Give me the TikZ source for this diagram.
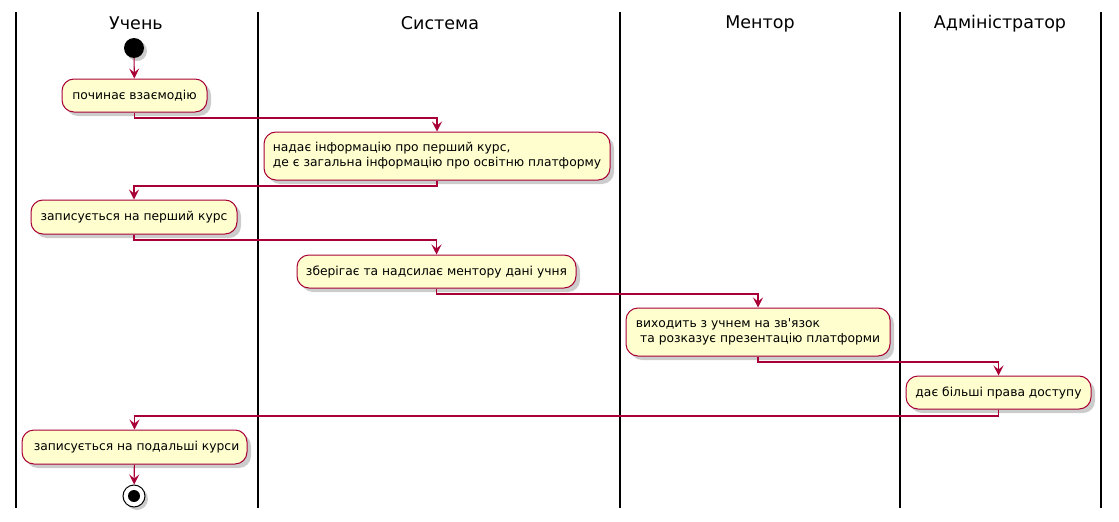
\documentclass[tikz,border=0pt]{standalone}
\usepackage{fontspec}
\setmainfont{DejaVu Sans}[Ligatures=TeXOff]
\usetikzlibrary{arrows.meta,shadows}

\definecolor{umlred}{HTML}{A80036}
\definecolor{umlfill}{HTML}{FEFECE}

\tikzset{
	act/.style={draw=umlred,fill=umlfill,line width=1pt,rounded corners=12pt,
		inner sep=0pt,minimum height=33pt,font=\fontsize{12.3}{15}\selectfont,
		drop shadow={shadow xshift=4pt,shadow yshift=-4pt,fill=black!40,opacity=.5}},
	flow/.style={color=umlred,line width=1.1pt,-{Stealth[length=10pt,width=10pt,inset=4pt]}},
	lane/.style={line width=1.5pt},
	lanetitle/.style={font=\fontsize{17.5}{20}\selectfont},
}

\begin{document}
\begin{tikzpicture}[x=1pt,y=-1pt]
	\useasboundingbox (0,0) rectangle (1119,522);
	% swimlanes
	\foreach \lx in {16,258,620,900,1101}
		\draw[lane] (\lx,12) -- (\lx,508);
	\node[lanetitle] (tstudent) at (136,23.5) {Учень};
	\node[lanetitle] (tsystem) at (440,23.5) {Система};
	\node[lanetitle] (tmentor) at (760,23.5) {Ментор};
	\node[lanetitle] (tadmin) at (1000,23.5) {Адміністратор};

	% start / stop
	\node[circle,fill=black,minimum size=20pt,inner sep=0pt,
		drop shadow={shadow xshift=3pt,shadow yshift=-3pt,fill=black!40,opacity=.5}] (start) at (134,48) {};
	\node[circle,draw=black,fill=white,line width=1pt,minimum size=22pt,inner sep=0pt,
		drop shadow={shadow xshift=3pt,shadow yshift=-3pt,fill=black!40,opacity=.5}] (stop) at (134,496) {};
	\node[circle,fill=black,minimum size=12pt,inner sep=0pt] (stopdot) at (stop) {};

	% activities
	\node[act,minimum width=145pt] (b1) at (134.5,95.5) {починає взаємодію};
	\node[act,minimum width=346pt,minimum height=48pt,align=left] (b2) at (437,156)
		{надає інформацію про перший курс,\\де є загальна інформацію про освітню платформу};
	\node[act,minimum width=206pt,minimum height=34pt] (b3) at (134,217) {записується на перший курс};
	\node[act,minimum width=279pt] (b4) at (436.5,271.5) {зберігає та надсилає ментору дані учня};
	\node[act,minimum width=264pt,minimum height=48pt,align=left] (b5) at (758,332)
		{виходить з учнем на зв'язок\\\hspace{0.35em}та розказує презентацію платформи};
	\node[act,minimum width=185pt] (b6) at (998.5,392.5) {дає більші права доступу};
	\node[act,minimum width=225pt,minimum height=34pt] (b7) at (134.5,447) {\hspace{4pt}записується на подальші курси};

	% connectors
	\draw[flow] (start) -- (b1);
	\draw[flow] (b1.south) -- ++(0,5.5) -| (b2.north);
	\draw[flow] (b2.south) -- ++(0,5.5) -| (b3.north);
	\draw[flow] (b3.south) -- ++(0,5.5) -| (b4.north);
	\draw[flow] (b4.south) -- ++(0,5.5) -| (b5.north);
	\draw[flow] (b5.south) -- ++(0,5.5) -| (b6.north);
	\draw[flow] (b6.south) -- ++(0,6.5) -| (b7.north);
	\draw[flow] (b7) -- (stop);
\end{tikzpicture}
\end{document}
